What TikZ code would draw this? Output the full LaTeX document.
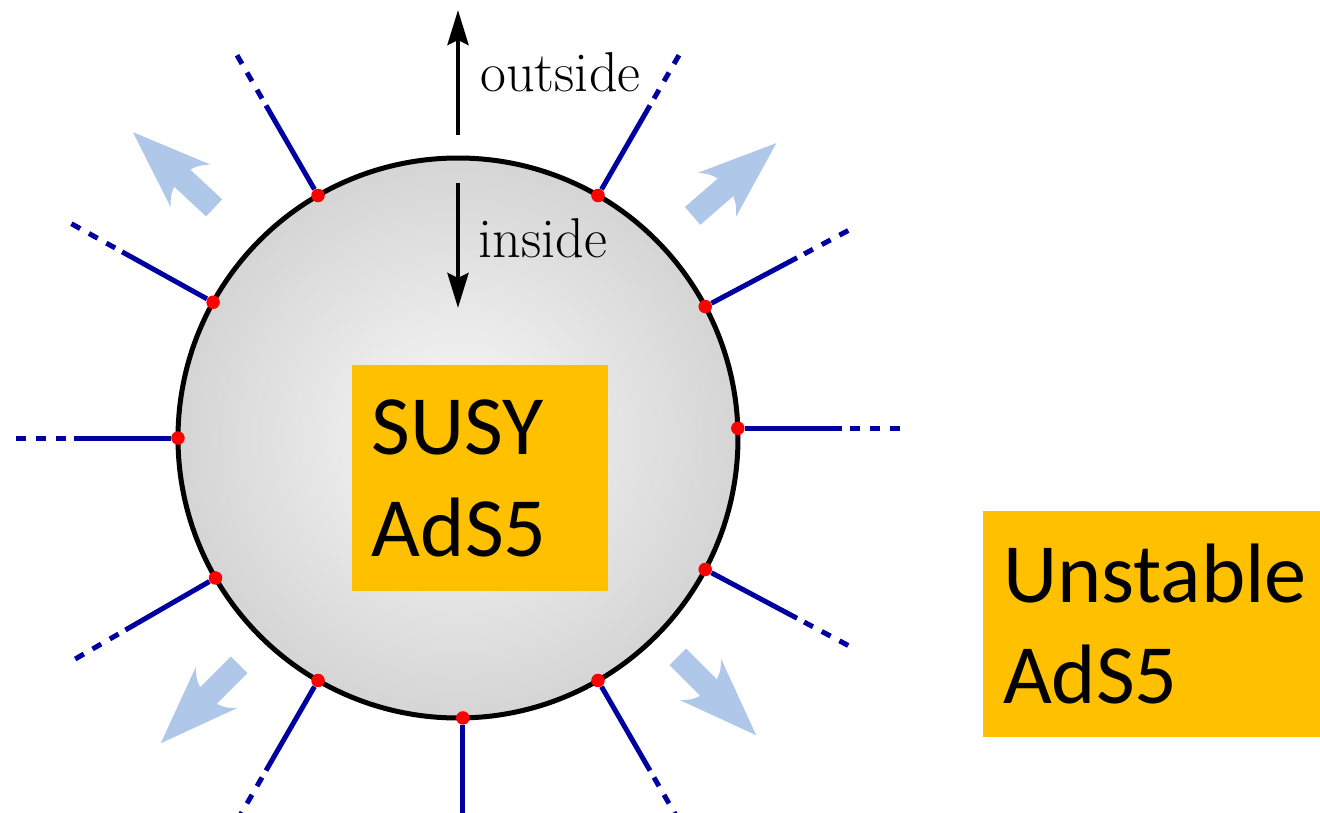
\documentclass[tikz,border=0pt]{standalone}
\usepackage{fontspec}
\newfontfamily\boxfont{Carlito}
\usetikzlibrary{arrows.meta,positioning,calc}
\definecolor{vacorange}{RGB}{255,192,0}
\definecolor{raynavy}{RGB}{0,0,160}
\definecolor{pushblue}{RGB}{175,199,232}
\begin{document}
\begin{tikzpicture}[
  dot/.style={circle, fill=red, inner sep=0pt, minimum size=0.27cm},
  ray/.style={raynavy, line width=0.1cm},
  pointer/.style={line width=0.09cm, -{Stealth[length=0.7cm, width=0.42cm, inset=0.1cm]}},
  side/.style={font=\fontsize{32}{38}\selectfont, inner sep=0pt, anchor=base west},
  vacuum/.style={fill=vacorange, inner xsep=0.4cm, inner ysep=0pt, minimum height=4.52cm,
    align=left, font=\boxfont\fontsize{48}{58}\selectfont}
]
\useasboundingbox (-9.16,-7.48) rectangle (17.24,8.76);
\clip (-9.16,-7.48) rectangle (17.24,8.76);
% the sphere
\node[circle, draw, line width=0.1cm, outer sep=0pt, minimum size=11.2cm,
  inner color=gray!5, outer color=gray!33] (ball) at (0,0) {};
% rays leaving the sphere, solid then dashed
\foreach \a/\b in {2/0,28/28,60/60,120/120,151/151,180/180,210/210,240/240,271/270,300/300,332/332}{
  \node[dot] (d\a) at (ball.\a) {};
  \coordinate (s\a) at ($(d\a.center)+(\b:2.08)$);
  \coordinate (t\a) at ($(d\a.center)+(\b:2.24)$);
  \coordinate (e\a) at ($(d\a.center)+(\b:3.24)$);
  \draw[ray] (d\a) -- (s\a);
  \draw[ray, dash pattern=on 0.2cm off 0.2cm] (t\a) -- (e\a);
}
% pushing outwards
\foreach \x/\y/\r in {-5.69/5.36/137, 5.53/5.17/41, -5.16/-5.32/225, 5.18/-5.16/-45}
  \fill[pushblue, shift={(\x,\y)}, rotate=\r]
    (-1.11,-0.235) -- (-0.24,-0.235) .. controls (-0.3,-0.4) .. (-0.46,-0.58)
    -- (1.11,0) -- (-0.46,0.58) .. controls (-0.3,0.4) .. (-0.24,0.235)
    -- (-1.11,0.235) -- cycle;
% outside / inside
\coordinate (out0) at (0,6.06);
\coordinate (out1) at (0,8.56);
\draw[pointer] (out0) -- (out1);
\node[side] (outlbl) at (0.44,6.94) {outside};
\coordinate (in0) at (0,5.1);
\coordinate (in1) at (0,2.6);
\draw[pointer] (in0) -- (in1);
\node[side] (inlbl) at (0.4,3.62) {inside};
% the two vacua
\node[vacuum, text width=4.32cm] (susy) at (0.44,-0.8) {SUSY\\AdS5};
\node[vacuum, text width=6.0cm] (unstable) at (13.9,-3.72) {Unstable\\AdS5};
\end{tikzpicture}
\end{document}
